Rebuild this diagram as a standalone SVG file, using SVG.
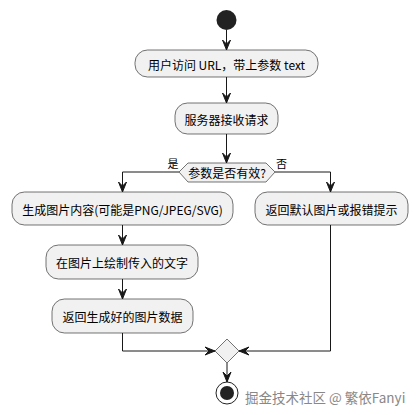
<svg xmlns="http://www.w3.org/2000/svg" width="416" height="415" viewBox="0 0 416 415">
<style>
.box{fill:#F1F1F1;stroke:#181818;stroke-width:0.6}
.t{font-family:"Noto Sans CJK SC","Noto Sans",sans-serif;font-size:12px;fill:#000;text-anchor:middle;dominant-baseline:central}
.ln{fill:none;stroke:#181818;stroke-width:1}
.ah{fill:#181818;stroke:#181818;stroke-width:1}
</style>
<rect width="416" height="415" fill="#FFFFFF"/>
<g id="start"><circle cx="226.5" cy="20" r="10" fill="#222222"/></g>
<g id="n1"><rect class="box" x="135" y="50" width="183" height="27" rx="12.5"/><text class="t" x="226.5" y="64">用户访问 URL，带上参数 text</text></g>
<g id="n2"><rect class="box" x="175" y="103" width="103" height="31" rx="12.5"/><text class="t" x="226.5" y="119">服务器接收请求</text></g>
<g id="d1"><polygon class="box" points="179,172 188,163 266,163 275,172 266,182 188,182"/><text class="t" x="227" y="172.5">参数是否有效?</text></g>
<g id="n3"><rect class="box" x="12" y="192" width="221" height="33" rx="12.5"/><text class="t" x="122.5" y="209">生成图片内容(可能是PNG/JPEG/SVG)</text></g>
<g id="n4"><rect class="box" x="255" y="192" width="153" height="33" rx="12.5"/><text class="t" x="331.5" y="209">返回默认图片或报错提示</text></g>
<g id="n5"><rect class="box" x="46" y="245" width="152" height="34" rx="12.5"/><text class="t" x="122" y="262">在图片上绘制传入的文字</text></g>
<g id="n6"><rect class="box" x="52" y="299" width="141" height="34" rx="12.5"/><text class="t" x="122.5" y="316">返回生成好的图片数据</text></g>
<g id="merge"><polygon class="box" points="215,351 227,339 239,351 227,363"/></g>
<g id="end"><circle cx="227" cy="393" r="11" fill="none" stroke="#222222" stroke-width="1"/><circle cx="227" cy="393" r="7" fill="#222222"/></g>
<g id="connectors">
<path class="ln" d="M226.5,30 V50"/>
<polygon class="ah" points="222.5,40 226.5,50 230.5,40 226.5,44"/>
<path class="ln" d="M226.5,77 V103"/>
<polygon class="ah" points="222.5,93 226.5,103 230.5,93 226.5,97"/>
<path class="ln" d="M226.5,134 V163"/>
<polygon class="ah" points="222.5,153 226.5,163 230.5,153 226.5,157"/>
<path class="ln" d="M179,172 H122.5 V192"/>
<polygon class="ah" points="118.5,182 122.5,192 126.5,182 122.5,186"/>
<text class="t" x="173" y="163" style="font-size:11px">是</text>
<path class="ln" d="M275,172 H330.5 V192"/>
<polygon class="ah" points="326.5,182 330.5,192 334.5,182 330.5,186"/>
<text class="t" x="281.5" y="163" style="font-size:11px">否</text>
<path class="ln" d="M122.5,225 V245"/>
<polygon class="ah" points="118.5,235 122.5,245 126.5,235 122.5,239"/>
<path class="ln" d="M122.5,279 V299"/>
<polygon class="ah" points="118.5,289 122.5,299 126.5,289 122.5,293"/>
<path class="ln" d="M122.5,333 V351 H215"/>
<polygon class="ah" points="205,347 215,351 205,355 209,351"/>
<path class="ln" d="M330.5,225 V351 H239"/>
<polygon class="ah" points="249,347 239,351 249,355 245,351"/>
<path class="ln" d="M227,363 V382"/>
<polygon class="ah" points="223,372 227,382 231,372 227,376"/>
</g>
<text x="245" y="397" style="font-family:'Noto Sans CJK SC','Noto Sans',sans-serif;font-size:13.5px;fill:#888888;dominant-baseline:central">掘金技术社区 @ 繁依Fanyi</text>
</svg>
